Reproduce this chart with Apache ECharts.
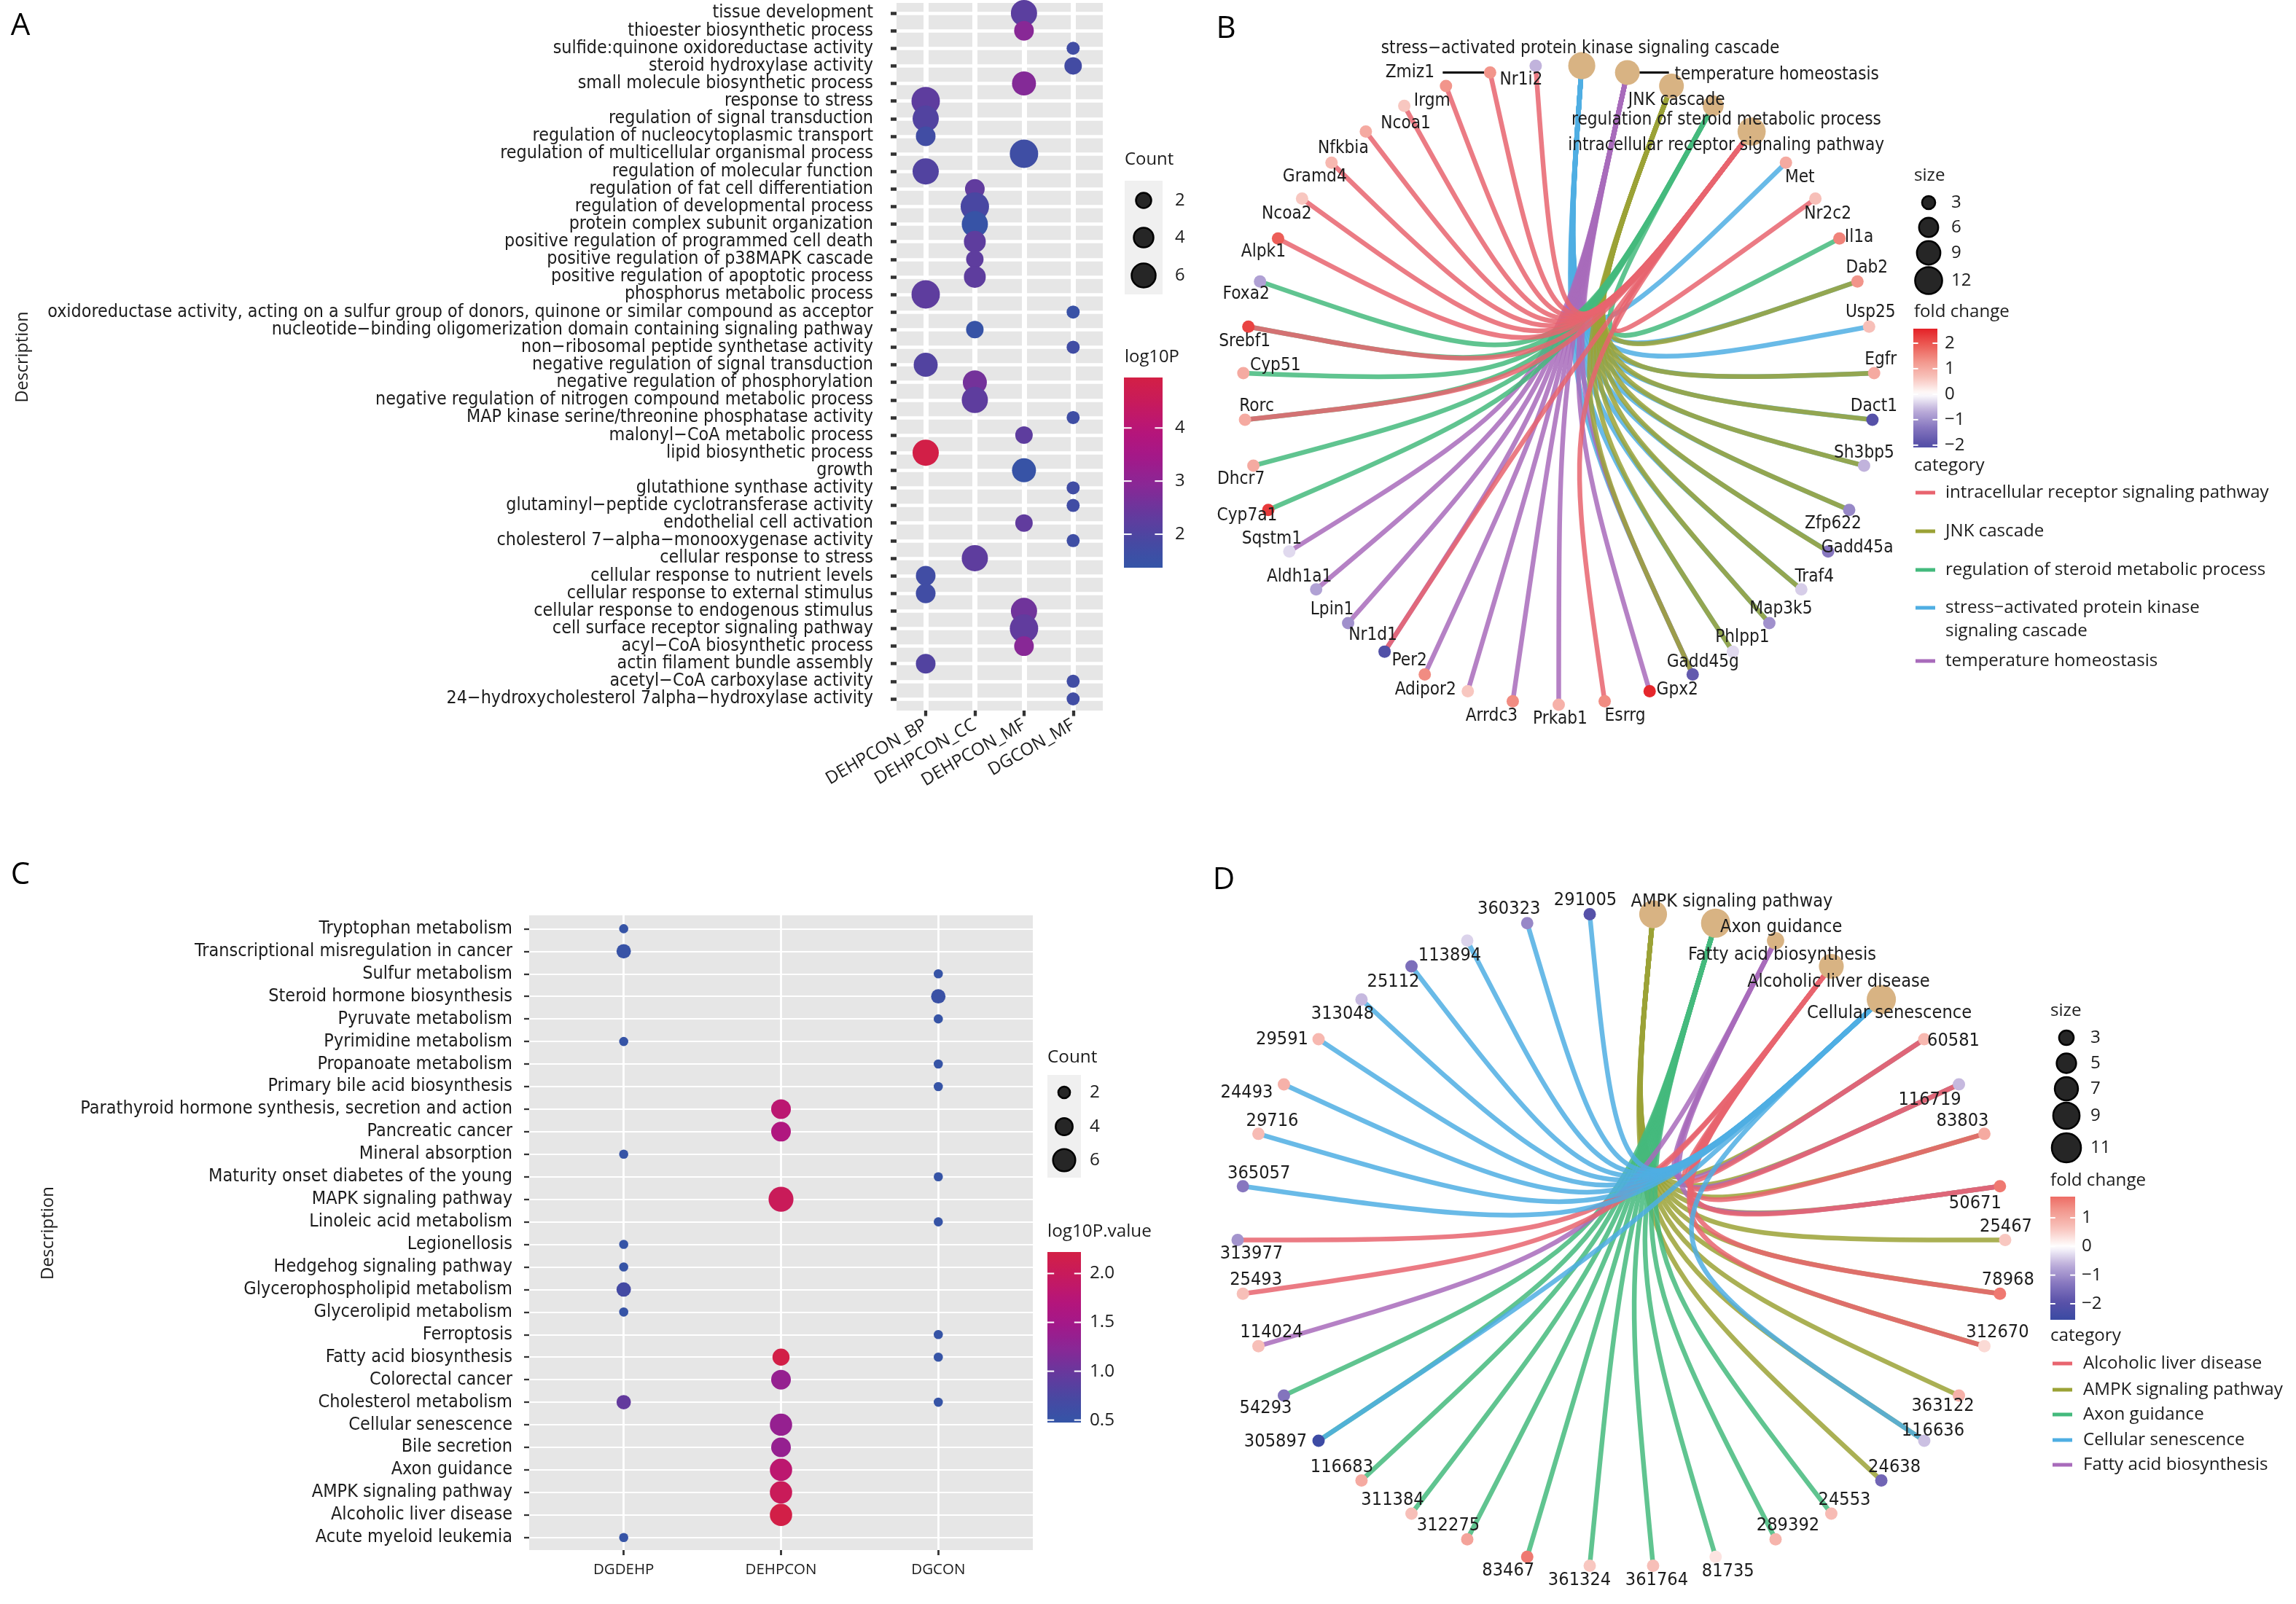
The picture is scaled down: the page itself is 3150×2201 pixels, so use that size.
<!DOCTYPE html>
<html><head><meta charset="utf-8">
<script src="https://cdn.jsdelivr.net/npm/echarts@6/dist/echarts.min.js"></script>
<style>html,body{margin:0;padding:0;background:#fff}#c{width:3150px;height:2201px}</style>
</head><body><div id="c"></div>
<script>
// ---------------- Panel A data ----------------
const aTerms = ['tissue development','thioester biosynthetic process','sulfide:quinone oxidoreductase activity','steroid hydroxylase activity','small molecule biosynthetic process','response to stress','regulation of signal transduction','regulation of nucleocytoplasmic transport','regulation of multicellular organismal process','regulation of molecular function','regulation of fat cell differentiation','regulation of developmental process','protein complex subunit organization','positive regulation of programmed cell death','positive regulation of p38MAPK cascade','positive regulation of apoptotic process','phosphorus metabolic process','oxidoreductase activity, acting on a sulfur group of donors, quinone or similar compound as acceptor','nucleotide\u2212binding oligomerization domain containing signaling pathway','non\u2212ribosomal peptide synthetase activity','negative regulation of signal transduction','negative regulation of phosphorylation','negative regulation of nitrogen compound metabolic process','MAP kinase serine/threonine phosphatase activity','malonyl\u2212CoA metabolic process','lipid biosynthetic process','growth','glutathione synthase activity','glutaminyl\u2212peptide cyclotransferase activity','endothelial cell activation','cholesterol 7\u2212alpha\u2212monooxygenase activity','cellular response to stress','cellular response to nutrient levels','cellular response to external stimulus','cellular response to endogenous stimulus','cell surface receptor signaling pathway','acyl\u2212CoA biosynthetic process','actin filament bundle assembly','acetyl\u2212CoA carboxylase activity','24\u2212hydroxycholesterol 7alpha\u2212hydroxylase activity'];
const aGroups = ['DEHPCON_BP','DEHPCON_CC','DEHPCON_MF','DGCON_MF'];
const aTermGroup = ['DEHPCON_MF','DEHPCON_MF','DGCON_MF','DGCON_MF','DEHPCON_MF','DEHPCON_BP','DEHPCON_BP','DEHPCON_BP','DEHPCON_MF','DEHPCON_BP','DEHPCON_CC','DEHPCON_CC','DEHPCON_CC','DEHPCON_CC','DEHPCON_CC','DEHPCON_CC','DEHPCON_BP','DGCON_MF','DEHPCON_CC','DGCON_MF','DEHPCON_BP','DEHPCON_CC','DEHPCON_CC','DGCON_MF','DEHPCON_MF','DEHPCON_BP','DEHPCON_MF','DGCON_MF','DGCON_MF','DEHPCON_MF','DGCON_MF','DEHPCON_CC','DEHPCON_BP','DEHPCON_BP','DEHPCON_MF','DEHPCON_MF','DEHPCON_MF','DEHPCON_BP','DGCON_MF','DGCON_MF'];
const aCount = [7,4,1,3,6,8,7,4,8,7,4,8,7,5,3,5,8,1,3,1,6,6,7,1,3,7,6,1,1,3,1,7,4,4,7,8,4,4,1,1];
const aLog10P = [2.2,2.9,1.7,1.75,2.85,2.25,2.05,1.7,1.65,2.05,2.3,1.9,1.45,2.25,2.25,2.25,2.25,1.5,1.45,1.7,2.05,2.6,2.25,1.65,2.25,4.9,1.45,1.7,1.7,2.3,1.65,2.25,1.7,1.7,2.55,2.3,2.9,2.05,1.7,1.7];
const aCountBreaks = [2,4,6];
const aLogBreaks = [2,3,4];

// ---------------- Panel C data ----------------
const cTerms = ['Tryptophan metabolism','Transcriptional misregulation in cancer','Sulfur metabolism','Steroid hormone biosynthesis','Pyruvate metabolism','Pyrimidine metabolism','Propanoate metabolism','Primary bile acid biosynthesis','Parathyroid hormone synthesis, secretion and action','Pancreatic cancer','Mineral absorption','Maturity onset diabetes of the young','MAPK signaling pathway','Linoleic acid metabolism','Legionellosis','Hedgehog signaling pathway','Glycerophospholipid metabolism','Glycerolipid metabolism','Ferroptosis','Fatty acid biosynthesis','Colorectal cancer','Cholesterol metabolism','Cellular senescence','Bile secretion','Axon guidance','AMPK signaling pathway','Alcoholic liver disease','Acute myeloid leukemia'];
const cGroups = ['DGDEHP','DEHPCON','DGCON'];
const cPointTerm = ['Tryptophan metabolism','Transcriptional misregulation in cancer','Sulfur metabolism','Steroid hormone biosynthesis','Pyruvate metabolism','Pyrimidine metabolism','Propanoate metabolism','Primary bile acid biosynthesis','Parathyroid hormone synthesis, secretion and action','Pancreatic cancer','Mineral absorption','Maturity onset diabetes of the young','MAPK signaling pathway','Linoleic acid metabolism','Legionellosis','Hedgehog signaling pathway','Glycerophospholipid metabolism','Glycerolipid metabolism','Ferroptosis','Fatty acid biosynthesis','Fatty acid biosynthesis','Colorectal cancer','Cholesterol metabolism','Cholesterol metabolism','Cellular senescence','Bile secretion','Axon guidance','AMPK signaling pathway','Alcoholic liver disease','Acute myeloid leukemia'];
const cPointGroup = ['DGDEHP','DGDEHP','DGCON','DGCON','DGCON','DGDEHP','DGCON','DGCON','DEHPCON','DEHPCON','DGDEHP','DGCON','DEHPCON','DGCON','DGDEHP','DGDEHP','DGDEHP','DGDEHP','DGCON','DEHPCON','DGCON','DEHPCON','DGDEHP','DGCON','DEHPCON','DEHPCON','DEHPCON','DEHPCON','DEHPCON','DGDEHP'];
const cCount = [1,3,1,3,1,1,1,1,5,5,1,1,7,1,1,1,3,1,1,4,1,5,3,1,6,5,6,6,6,1];
const cLog10P = [0.5,0.52,0.5,0.55,0.5,0.5,0.5,0.5,1.8,1.65,0.5,0.5,2.02,0.5,0.5,0.5,0.68,0.5,0.5,2.2,0.5,1.35,0.95,0.5,1.35,1.35,1.82,2.02,2.2,0.5];
const cCountBreaks = [2,4,6];
const cLogBreaks = [0.5,1.0,1.5,2.0];

// ---------------- Panel B data ----------------
const bCategories = ['stress\u2212activated protein kinase signaling cascade','temperature homeostasis','JNK cascade','regulation of steroid metabolic process','intracellular receptor signaling pathway'];
const bGenes = ['Met','Nr2c2','Il1a','Dab2','Usp25','Egfr','Dact1','Sh3bp5','Zfp622','Gadd45a','Traf4','Map3k5','Phlpp1','Gadd45g','Gpx2','Esrrg','Prkab1','Arrdc3','Adipor2','Per2','Nr1d1','Lpin1','Aldh1a1','Sqstm1','Cyp7a1','Dhcr7','Rorc','Cyp51','Srebf1','Foxa2','Alpk1','Ncoa2','Gramd4','Nfkbia','Ncoa1','Irgm','Zmiz1','Nr1i2'];
const bFoldChange = [1.0,0.7,1.5,1.3,0.7,1.0,-2.0,-0.6,-1.1,-1.3,-0.4,-1.0,-0.3,-1.8,2.5,1.4,0.9,1.4,0.6,1.4,-2.1,-1.0,-0.8,-0.3,2.3,1.0,1.0,1.0,2.2,-0.8,1.9,0.6,0.8,1.0,0.6,1.3,1.3,-0.6];
const bCategoryGenes = [
  ['Met','Dab2','Usp25','Egfr','Dact1','Sh3bp5','Zfp622','Gadd45a','Traf4','Map3k5','Phlpp1','Gadd45g'],
  ['Gadd45g','Gpx2','Prkab1','Arrdc3','Adipor2','Per2','Nr1d1','Lpin1','Aldh1a1','Sqstm1'],
  ['Dab2','Egfr','Dact1','Sh3bp5','Zfp622','Gadd45a','Traf4','Map3k5','Phlpp1','Gadd45g'],
  ['Il1a','Cyp7a1','Dhcr7','Rorc','Cyp51','Srebf1','Foxa2'],
  ['Nr2c2','Esrrg','Nr1d1','Rorc','Srebf1','Alpk1','Ncoa2','Gramd4','Nfkbia','Ncoa1','Irgm','Zmiz1','Nr1i2']
];
const bLegendOrder = ['intracellular receptor signaling pathway','JNK cascade','regulation of steroid metabolic process','stress\u2212activated protein kinase signaling cascade','temperature homeostasis'];
const bSizeBreaks = [3,6,9,12];
const bFcBreaks = [2,1,0,-1,-2];

// ---------------- Panel D data ----------------
const dCategories = ['AMPK signaling pathway','Axon guidance','Fatty acid biosynthesis','Alcoholic liver disease','Cellular senescence'];
const dGenes = ['60581','116719','83803','50671','25467','78968','312670','363122','116636','24638','24553','289392','81735','361764','361324','83467','312275','311384','116683','305897','54293','114024','25493','313977','365057','29716','24493','29591','313048','25112','113894','360323','291005'];
const dFoldChange = [0.8,-0.55,1.0,1.6,0.6,1.6,0.4,0.9,-0.5,-1.6,0.75,0.85,0.3,0.7,0.6,1.6,1.1,0.7,1.0,-2.5,-1.35,0.7,0.7,-0.95,-1.3,0.75,0.9,0.8,-0.55,-1.45,-0.35,-1.1,-2.0];
const dCategoryGenes = [
  ['60581','116719','83803','50671','25467','78968','312670','363122','116636','24638'],
  ['24553','289392','81735','361764','361324','83467','312275','311384','116683','305897','54293'],
  ['60581','116719','50671','114024'],
  ['60581','116719','83803','50671','78968','312670','25493','313977'],
  ['116636','305897','365057','29716','24493','29591','313048','25112','113894','360323','291005']
];
const dLegendOrder = ['Alcoholic liver disease','AMPK signaling pathway','Axon guidance','Cellular senescence','Fatty acid biosynthesis'];
const dSizeBreaks = [3,5,7,9,11];
const dFcBreaks = [1,0,-1,-2];

// ---------------- styles ----------------
const FONT_N = '"Liberation Sans Narrow","DejaVu Sans Condensed","Liberation Sans",sans-serif';
const FONT_W = '"Open Sans","Noto Sans","Liberation Sans",sans-serif';
const TXT = '#1c1c1c';
const PANEL_BG = '#E6E6E6';
const CAT_NODE = '#D8B383';
const dotGradient = ['#3455A7','#4848A2','#66399D','#882896','#A2198A','#B6157A','#C61A5E','#D31F45'];
const fcGradient = ['#3A4AA3','#5A52A9','#8878C0','#BDAEDA','#FFFFFF','#F8C3BC','#F2968C','#EC5C56','#E42127'];
const catColor = {
  'intracellular receptor signaling pathway':'#E8646F','JNK cascade':'#9BA236','regulation of steroid metabolic process':'#44BA7D',
  'stress\u2212activated protein kinase signaling cascade':'#4FAEE3','temperature homeostasis':'#A86BBB',
  'Alcoholic liver disease':'#E8646F','AMPK signaling pathway':'#9BA236','Axon guidance':'#44BA7D','Cellular senescence':'#4FAEE3','Fatty acid biosynthesis':'#A86BBB'
};
const bLabelNudge = {Met:[19,20],Nr2c2:[17,21],Il1a:[27,-2],Dab2:[13,-19],Usp25:[2,-20],Egfr:[9,-18],Dact1:[2,-18],Sh3bp5:[0,-17],Zfp622:[-22,19],Gadd45a:[40,-5],Traf4:[18,-17],Map3k5:[16,-19],Phlpp1:[13,-19],Gadd45g:[14,-17],Gpx2:[38,-2],Esrrg:[28,20],Prkab1:[2,20],Arrdc3:[-29,20],Adipor2:[-58,-2],Per2:[-21,-19],Nr1d1:[-16,-22],Lpin1:[-22,-18],Aldh1a1:[-23,-17],Sqstm1:[-24,-17],Cyp7a1:[-29,8],Dhcr7:[-17,19],Rorc:[16,-18],Cyp51:[44,-10],Srebf1:[-5,20],Foxa2:[-19,17],Alpk1:[-20,18],Ncoa2:[-21,21],Gramd4:[-23,19],Nfkbia:[-31,23],Ncoa1:[2,25],Irgm:[-19,21],Zmiz1:[-110,0],Nr1i2:[-20,20]};
const bCatNudge = [[-2,-23],[205,3],[7,20],[18,20],[-35,19]];
const bLeaders = {gene:{Zmiz1:[-65,-8]}, cat:{1:[0,57]}};
const dLabelNudge = {'291005':[-6,-19],'360323':[-25,-19],'113894':[-24,21],'25112':[-25,21],'313048':[-26,20],'29591':[-50,0],'24493':[-51,11],'29716':[19,-17],'365057':[22,-17],'313977':[19,19],'25493':[18,-19],'114024':[18,-19],'54293':[-25,18],'305897':[-59,1],'116683':[-27,-18],'311384':[-26,-19],'312275':[-26,-19],'83467':[-26,19],'361324':[-14,20],'361764':[5,20],'81735':[17,20],'289392':[17,-19],'24553':[18,-19],'24638':[18,-18],'116636':[12,-14],'363122':[-22,15],'312670':[18,-19],'78968':[11,-19],'25467':[1,-18],'50671':[-34,24],'83803':[-30,-17],'116719':[-40,21],'60581':[40,2]};
const dCatNudge = [[108,-17],[90,6],[9,20],[10,21],[11,19]];

// ---------------- helpers ----------------
const cv = document.createElement('canvas').getContext('2d');
function fit(text, family, width){ cv.font = '100px ' + family; return 100 * width / cv.measureText(text).width; }
function hexToRgb(h){return [parseInt(h.slice(1,3),16),parseInt(h.slice(3,5),16),parseInt(h.slice(5,7),16)];}
function colorAt(grad,min,max,v){let t=(v-min)/(max-min)*(grad.length-1);t=Math.max(0,Math.min(grad.length-1,t));const i=Math.min(Math.floor(t),grad.length-2);const f=t-i;const a=hexToRgb(grad[i]),b=hexToRgb(grad[i+1]);return 'rgb('+a.map((x,k)=>Math.round(x+(b[k]-x)*f)).join(',')+')';}
function barStops(grad,min,max,lo,hi){const s=[];for(let k=0;k<=30;k++){const off=k/30;s.push({offset:off,color:colorAt(grad,min,max,hi-(hi-lo)*off)});}return s;}
function circlePos(i,n){const a=(i+0.5)*2*Math.PI/n;return [Math.sin(a),Math.cos(a)];}
const aSize = c => 15 + 3*c;
const cSize = c => 9 + 3.6*c;
const bCatSize = n => 4 + 10*Math.sqrt(n-1);
const dCatSize = n => 4 + 11.4*Math.sqrt(n-1);
const GENE_SIZE = 17;
const ARC_STRENGTH = 1;

const fsAy = fit(aTerms[17], FONT_N, 1133);
const fsAx = fit('DEHPCON_MF', FONT_W, 160);
const fsCy = fit(cTerms[8], FONT_N, 593);
const fsCx = fit('DEHPCON', FONT_W, 98);
const fsB = fit(bCategories[0], FONT_N, 547);
const fsD = fit(dCategories[0], FONT_N, 277);
const fsLegA = fit('log10P', FONT_W, 75);
const fsLegC = fit('log10P.value', FONT_W, 143);
const fsLegB = fit('intracellular receptor signaling pathway', FONT_W, 444);
const fsLegD = fit('AMPK signaling pathway', FONT_W, 274);
const fsDescA = fit('Description', FONT_W, 125);
const fsDescC = fit('Description', FONT_W, 128);

// ---------------- network builders ----------------
function buildNet(cats, genes, fcs, catGenes, gridIdx, catSize, nudge, catNudge, fs){
  const n = cats.length + genes.length;
  const catPos = cats.map((c,i)=>circlePos(i,n));
  const genePos = genes.map((g,k)=>circlePos(k+cats.length,n));
  const edges = [];
  catGenes.forEach((list,ci)=>{ list.forEach(g=>{ const gi = genes.indexOf(g); edges.push([catPos[ci][0],catPos[ci][1],genePos[gi][0],genePos[gi][1],ci]); }); });
  const colors = cats.map(c=>catColor[c]);
  const lab = {show:true, position:'inside', formatter:'{b}', color:TXT, fontSize:fs, fontFamily:FONT_N, textBorderWidth:0};
  const edgeS = {type:'custom', coordinateSystem:'cartesian2d', xAxisIndex:gridIdx, yAxisIndex:gridIdx, clip:false, silent:true, z:2, data:edges,
    renderItem:function(params, api){
      const p1 = api.coord([api.value(0), api.value(1)]), p2 = api.coord([api.value(2), api.value(3)]), c = api.coord([0,0]);
      const k = 1 - ARC_STRENGTH;
      return {type:'bezierCurve', shape:{x1:p1[0],y1:p1[1],x2:p2[0],y2:p2[1],
          cpx1:c[0]+k*(p1[0]-c[0]),cpy1:c[1]+k*(p1[1]-c[1]),cpx2:c[0]+k*(p2[0]-c[0]),cpy2:c[1]+k*(p2[1]-c[1])},
        style:{stroke:colors[api.value(4)], lineWidth:6.5, fill:'none', opacity:0.85}};
    }};
  const geneS = {type:'scatter', xAxisIndex:gridIdx, yAxisIndex:gridIdx, z:4, symbolSize:GENE_SIZE, itemStyle:{opacity:1}, label:lab,
    data: genes.map((g,k)=>({name:g, value:[genePos[k][0],genePos[k][1],fcs[k]], label:{offset:nudge[g]||[0,0]}}))};
  const catS = {type:'scatter', xAxisIndex:gridIdx, yAxisIndex:gridIdx, z:4, itemStyle:{color:CAT_NODE, opacity:1}, label:lab,
    symbolSize:(v)=>catSize(v[2]),
    data: cats.map((c,i)=>({name:c, value:[catPos[i][0],catPos[i][1],catGenes[i].length], label:{offset:catNudge[i]}}))};
  return {edgeS, geneS, catS, catPos, genePos};
}
const B = buildNet(bCategories,bGenes,bFoldChange,bCategoryGenes,6,bCatSize,bLabelNudge,bCatNudge,fsB);
const D = buildNet(dCategories,dGenes,dFoldChange,dCategoryGenes,7,dCatSize,dLabelNudge,dCatNudge,fsD);

// leader segments (ggrepel) for panel B
const leaderData = [];
Object.keys(bLeaders.gene).forEach(g=>{const p=B.genePos[bGenes.indexOf(g)]; leaderData.push([p[0],p[1],bLeaders.gene[g][0],bLeaders.gene[g][1]]);});
Object.keys(bLeaders.cat).forEach(i=>{const p=B.catPos[+i]; leaderData.push([p[0],p[1],bLeaders.cat[i][0],bLeaders.cat[i][1]]);});
const leaderS = {type:'custom', coordinateSystem:'cartesian2d', xAxisIndex:6, yAxisIndex:6, clip:false, silent:true, z:3, data:leaderData,
  renderItem:function(params, api){const p=api.coord([api.value(0),api.value(1)]);
    return {type:'line', shape:{x1:p[0]+api.value(2),y1:p[1],x2:p[0]+api.value(3),y2:p[1]}, style:{stroke:'#000', lineWidth:3}};}};

// ---------------- axes ----------------
const hidVal = (g)=>({gridIndex:g, type:'value', show:false, min:0, max:1});
const hidUnit = (g)=>({gridIndex:g, type:'value', show:false, min:-1, max:1});
const grids = [
  {left:1230, top:18, width:283, height:941},
  {left:1270, top:4, width:202.3, height:971},
  {left:1270, top:18, width:202.3, height:941},
  {left:726, top:1274.4, width:691, height:835.3},
  {left:855.7, top:1256, width:431.6, height:871},
  {left:855.7, top:1274.4, width:431.6, height:835.3},
  {left:1705.5, top:89, width:866, height:878},
  {left:1698, top:1253, width:1053, height:897}
].map(g=>Object.assign({containLabel:false, outerBoundsMode:'none', show:false}, g));

const xAxes = [
  hidVal(0),
  {gridIndex:1, type:'category', data:aGroups, boundaryGap:false, axisLine:{show:false},
   axisTick:{show:true, length:7.6, lineStyle:{color:'#333', width:4.3}},
   axisLabel:{interval:0, rotate:30, margin:18, fontSize:fsAx, fontFamily:FONT_W, color:TXT},
   splitLine:{show:true, lineStyle:{color:'#fff', width:7}}},
  {gridIndex:2, type:'category', data:aGroups, boundaryGap:false, show:false},
  hidVal(3),
  {gridIndex:4, type:'category', data:cGroups, boundaryGap:false, axisLine:{show:false},
   axisTick:{show:true, length:7, lineStyle:{color:'#333', width:2.8}},
   axisLabel:{interval:0, margin:17, fontSize:fsCx, fontFamily:FONT_W, color:TXT},
   splitLine:{show:true, lineStyle:{color:'#fff', width:2.8}}},
  {gridIndex:5, type:'category', data:cGroups, boundaryGap:false, show:false},
  hidUnit(6), hidUnit(7)
];
const yAxes = [
  {gridIndex:0, type:'category', data:aTerms, inverse:true, boundaryGap:false, axisLine:{show:false},
   axisTick:{show:true, length:8, lineStyle:{color:'#333', width:4.5}},
   axisLabel:{interval:0, margin:32, fontSize:fsAy, fontFamily:FONT_N, color:TXT},
   splitLine:{show:true, lineStyle:{color:'#fff', width:4.5}}},
  hidVal(1),
  {gridIndex:2, type:'category', data:aTerms, inverse:true, boundaryGap:false, show:false},
  {gridIndex:3, type:'category', data:cTerms, inverse:true, boundaryGap:false, axisLine:{show:false},
   axisTick:{show:true, length:7, lineStyle:{color:'#333', width:2.3}},
   axisLabel:{interval:0, margin:23, fontSize:fsCy, fontFamily:FONT_N, color:TXT},
   splitLine:{show:true, lineStyle:{color:'#fff', width:2}}},
  hidVal(4),
  {gridIndex:5, type:'category', data:cTerms, inverse:true, boundaryGap:false, show:false},
  hidUnit(6), hidUnit(7)
];

// ---------------- series ----------------
const series = [
  {type:'scatter', xAxisIndex:2, yAxisIndex:2, z:3, itemStyle:{opacity:1}, symbolSize:(v)=>aSize(v[2]),
   data:aTerms.map((t,i)=>[aTermGroup[i], t, aCount[i], aLog10P[i]])},
  {type:'scatter', xAxisIndex:5, yAxisIndex:5, z:3, itemStyle:{opacity:1}, symbolSize:(v)=>cSize(v[2]),
   data:cPointTerm.map((t,i)=>[cPointGroup[i], t, cCount[i], cLog10P[i]])},
  B.edgeS, leaderS, B.geneS, B.catS,
  D.edgeS, D.geneS, D.catS
];
const visualMap = [
  {type:'continuous', show:false, seriesIndex:0, dimension:3, min:1.37, max:4.95, inRange:{color:dotGradient}},
  {type:'continuous', show:false, seriesIndex:1, dimension:3, min:0.475, max:2.22, inRange:{color:dotGradient}},
  {type:'continuous', show:false, seriesIndex:4, dimension:2, min:-2.57, max:2.57, inRange:{color:fcGradient}},
  {type:'continuous', show:false, seriesIndex:7, dimension:2, min:-2.56, max:2.56, inRange:{color:fcGradient}}
];

// ---------------- legends & annotations (graphic) ----------------
const G = [];
const txt = (x,y,text,fs)=>G.push({type:'text', z:100, style:{x:x, y:y, text:text, fontSize:fs, fontFamily:FONT_W, fill:TXT, align:'left', verticalAlign:'middle'}});
G.push({type:'rect', z:-5, shape:{x:1230,y:4,width:283,height:971}, style:{fill:PANEL_BG}});
G.push({type:'rect', z:-5, shape:{x:726,y:1256,width:691,height:871}, style:{fill:PANEL_BG}});
[['A',28,36],['B',1682,40],['C',28,1201],['D',1679,1208]].forEach(p=>G.push({type:'text', z:100, style:{x:p[1], y:p[2], text:p[0], fontSize:42, fontFamily:FONT_W, fill:'#000', align:'center', verticalAlign:'middle'}}));
G.push({type:'text', z:100, x:31, y:490, rotation:Math.PI/2, style:{x:0,y:0,text:'Description', fontSize:fsDescA, fontFamily:FONT_W, fill:TXT, align:'center', verticalAlign:'middle'}});
G.push({type:'text', z:100, x:66, y:1692, rotation:Math.PI/2, style:{x:0,y:0,text:'Description', fontSize:fsDescC, fontFamily:FONT_W, fill:TXT, align:'center', verticalAlign:'middle'}});

function countLegend(x, titleY, boxY, boxW, boxH, keyYs, breaks, sizeFn, labX, fs){
  txt(x, titleY, 'Count', fs);
  G.push({type:'rect', z:99, shape:{x:x, y:boxY, width:boxW, height:boxH}, style:{fill:'#F0F0F0'}});
  breaks.forEach((b,i)=>{ G.push({type:'circle', z:100, shape:{cx:x+boxW/2, cy:keyYs[i], r:sizeFn(b)/2}, style:{fill:'#262626', stroke:'#000', lineWidth:2.5}}); txt(labX, keyYs[i], String(b), fs); });
}
function colorBar(x, y, w, h, grad, vmin, vmax, lo, hi, breaks, labels, labX, fs){
  G.push({type:'rect', z:99, shape:{x:x,y:y,width:w,height:h}, style:{fill:{type:'linear', x:0, y:0, x2:0, y2:1, colorStops:barStops(grad,vmin,vmax,lo,hi)}}});
  breaks.forEach((b,i)=>{ const yy = y + h - (b-lo)/(hi-lo)*h;
    G.push({type:'line', z:100, shape:{x1:x,y1:yy,x2:x+w*0.2,y2:yy}, style:{stroke:'#fff', lineWidth:2}});
    G.push({type:'line', z:100, shape:{x1:x+w*0.8,y1:yy,x2:x+w,y2:yy}, style:{stroke:'#fff', lineWidth:2}});
    txt(labX, yy, labels[i], fs); });
}
// Panel A legend
countLegend(1543, 219.5, 248, 52, 156, [275,326,378], aCountBreaks, aSize, 1612, fsLegA);
txt(1543, 490, 'log10P', fsLegA);
colorBar(1542, 518, 53, 261, dotGradient, 1.37, 4.95, 1.37, 4.95, aLogBreaks, aLogBreaks.map(String), 1612, fsLegA);
// Panel C legend
countLegend(1437, 1451, 1475, 46, 141, [1499,1546,1592], cCountBreaks, cSize, 1495, fsLegC);
txt(1437, 1690, 'log10P.value', fsLegC);
colorBar(1437, 1718, 46, 234, dotGradient, 0.475, 2.22, 0.475, 2.22, cLogBreaks, cLogBreaks.map(v=>v.toFixed(1)), 1495, fsLegC);
// Panel B legend
txt(2626, 241, 'size', fsLegB);
[278,312,347,385].forEach((yy,i)=>{ G.push({type:'circle', z:100, shape:{cx:2646, cy:yy, r:bCatSize(bSizeBreaks[i])/2}, style:{fill:'#262626', stroke:'#000', lineWidth:2.5}}); txt(2677, yy, String(bSizeBreaks[i]), fsLegB); });
txt(2626, 428, 'fold change', fsLegB);
colorBar(2625, 451, 33, 163, fcGradient, -2.57, 2.57, -2.09, 2.57, bFcBreaks, bFcBreaks.map(v=>v<0?'\u2212'+(-v):String(v)), 2668, fsLegB);
txt(2626, 639, 'category', fsLegB);
[676,729,782,834,907].forEach((yy,i)=>{ const c = bLegendOrder[i];
  G.push({type:'line', z:100, shape:{x1:2628,y1:yy,x2:2655,y2:yy}, style:{stroke:catColor[c], lineWidth:5}});
  if (c.indexOf('stress')===0){ txt(2669, yy, 'stress\u2212activated protein kinase', fsLegB); txt(2669, 866, 'signaling cascade', fsLegB); }
  else txt(2669, yy, c, fsLegB); });
// Panel D legend
txt(2813, 1387, 'size', fsLegD);
[1424,1459,1494,1531,1575].forEach((yy,i)=>{ G.push({type:'circle', z:100, shape:{cx:2835, cy:yy, r:dCatSize(dSizeBreaks[i])/2}, style:{fill:'#262626', stroke:'#000', lineWidth:2.5}}); txt(2868, yy, String(dSizeBreaks[i]), fsLegD); });
txt(2813, 1620, 'fold change', fsLegD);
colorBar(2813, 1642, 34, 169, fcGradient, -2.56, 2.56, -2.56, 1.74, dFcBreaks, dFcBreaks.map(v=>v<0?'\u2212'+(-v):String(v)), 2856, fsLegD);
txt(2813, 1833.5, 'category', fsLegD);
[1871,1907,1941,1976,2010].forEach((yy,i)=>{ const c = dLegendOrder[i];
  G.push({type:'line', z:100, shape:{x1:2816,y1:yy,x2:2843,y2:yy}, style:{stroke:catColor[c], lineWidth:5}});
  txt(2858, yy, c, fsLegD); });

const chart = echarts.init(document.getElementById('c'), null, {renderer:'canvas', width:3150, height:2201});
chart.setOption({
  animation:false, backgroundColor:'#ffffff',
  grid:grids, xAxis:xAxes, yAxis:yAxes, series:series, visualMap:visualMap,
  graphic:{elements:G}
});
</script></body></html>
